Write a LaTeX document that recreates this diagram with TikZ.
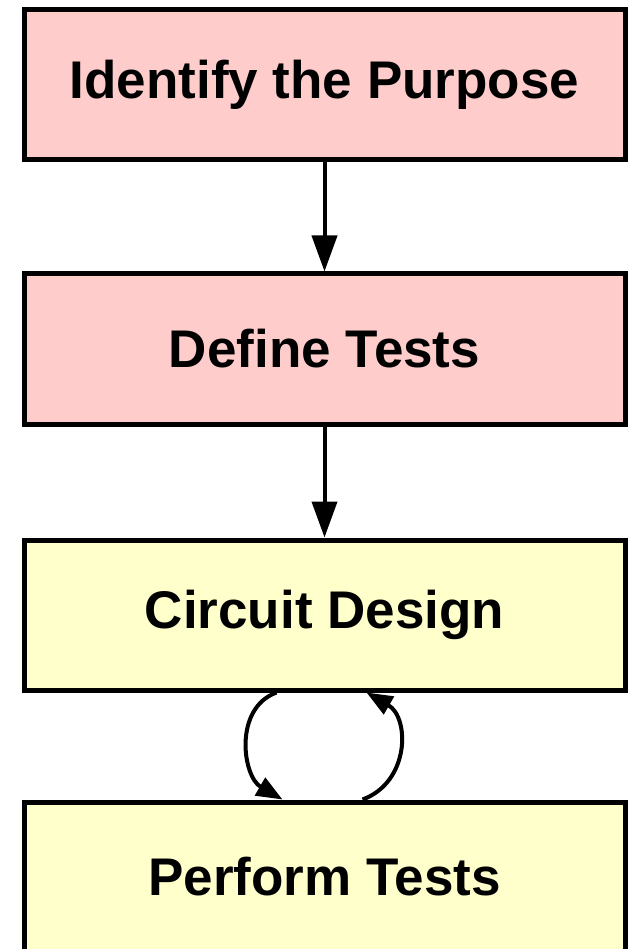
\documentclass[tikz,border=0pt]{standalone}
\usepackage{fontspec}
\setmainfont{Liberation Sans}
\usetikzlibrary{arrows.meta, positioning}

\definecolor{pinkfill}{HTML}{FFCCCC}
\definecolor{yellowfill}{HTML}{FFFFCC}

\begin{document}
\begin{tikzpicture}[
    x=1pt, y=1pt,
    every node/.style={rectangle, draw, line width=5pt, minimum width=601pt, minimum height=150pt, font=\fontsize{53}{60}\selectfont\bfseries},
    plan_box/.style={fill=pinkfill},
    work_box/.style={fill=yellowfill},
    edge/.style={-{Triangle[length=36pt, width=25pt]}, line width=4pt},
    loop_edge/.style={-{Triangle[length=26pt, width=20pt]}, line width=4pt}
]
\useasboundingbox (0,0) rectangle (627,-949);

% Cajas
\node[plan_box] (purpose) at (324.5, -85) {Identify the Purpose};
\node[plan_box] (tests) at (324.5, -349) {Define Tests};
\node[work_box] (design) at (324.5, -615) {Circuit Design};
\node[work_box] (perform) at (324.5, -877) {Perform Tests};

% Flechas
\draw[edge] (purpose) -- (tests);
\draw[edge] (tests) -- (design);

% Ciclo diseno / pruebas
\draw[loop_edge] ([xshift=-48pt]design.south) to[out=200, in=150, looseness=1.1] ([xshift=-42pt]perform.north);
\draw[loop_edge] ([xshift=38pt]perform.north) to[out=20, in=330, looseness=1.2] ([xshift=42pt]design.south);

\end{tikzpicture}
\end{document}
